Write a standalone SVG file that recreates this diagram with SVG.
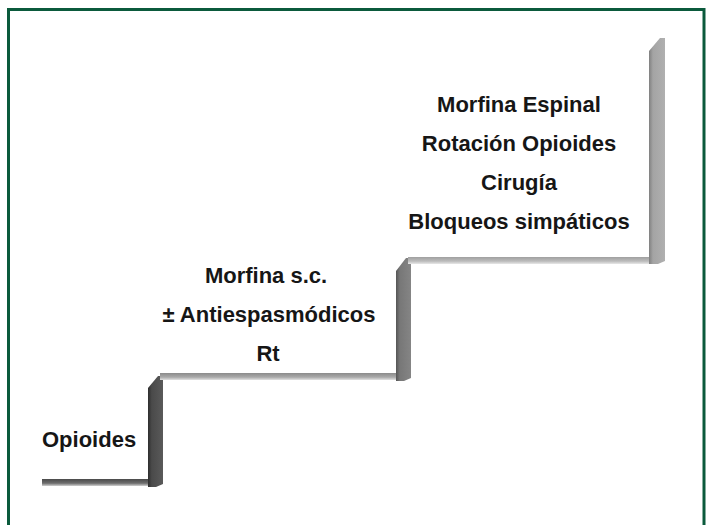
<svg xmlns="http://www.w3.org/2000/svg" width="706" height="525" viewBox="0 0 706 525">
  <defs>
    <linearGradient id="tread1" x1="0" y1="0" x2="0" y2="1">
      <stop offset="0" stop-color="#4a4a4a"/>
      <stop offset="0.6" stop-color="#6e6e6e"/>
      <stop offset="1" stop-color="#d0d0d0"/>
    </linearGradient>
    <linearGradient id="tread2" x1="0" y1="0" x2="0" y2="1">
      <stop offset="0" stop-color="#8a8a8a"/>
      <stop offset="0.6" stop-color="#aaa"/>
      <stop offset="1" stop-color="#e2e2e2"/>
    </linearGradient>
    <linearGradient id="tread3" x1="0" y1="0" x2="0" y2="1">
      <stop offset="0" stop-color="#a0a0a0"/>
      <stop offset="0.6" stop-color="#bcbcbc"/>
      <stop offset="1" stop-color="#e8e8e8"/>
    </linearGradient>
    <linearGradient id="riser1" x1="0" y1="0" x2="1" y2="0">
      <stop offset="0" stop-color="#2e2e2e"/>
      <stop offset="0.25" stop-color="#4a4a4a"/>
      <stop offset="1" stop-color="#5a5a5a"/>
    </linearGradient>
    <linearGradient id="riser2" x1="0" y1="0" x2="1" y2="0">
      <stop offset="0" stop-color="#555"/>
      <stop offset="0.25" stop-color="#777"/>
      <stop offset="1" stop-color="#858585"/>
    </linearGradient>
    <linearGradient id="riser3" x1="0" y1="0" x2="1" y2="0">
      <stop offset="0" stop-color="#808080"/>
      <stop offset="0.25" stop-color="#a4a4a4"/>
      <stop offset="1" stop-color="#b0b0b0"/>
    </linearGradient>
  </defs>
  <style>
    .lbl { font-family: "Liberation Sans", Arial, sans-serif; font-weight: bold; font-size: 22px; fill: #161616; }
    .c { text-anchor: middle; }
  </style>
  <rect x="0" y="0" width="706" height="525" fill="#ffffff"/>
  <rect x="8.5" y="9.5" width="695.5" height="540" fill="none" stroke="#0b5a3c" stroke-width="3"/>

  <g id="stairs">
    <g id="step1">
      <rect x="42" y="479" width="112" height="7" fill="url(#tread1)"/>
      <polygon points="148,388 158,376 163,376 163,484 156,487 148,487" fill="url(#riser1)"/>
    </g>
    <g id="step2">
      <rect x="160" y="373" width="240" height="7" fill="url(#tread2)"/>
      <polygon points="396,271 406,258 411,258 411,378 404,381 396,381" fill="url(#riser2)"/>
    </g>
    <g id="step3">
      <rect x="408" y="257" width="246" height="7" fill="url(#tread3)"/>
      <polygon points="649,51 660,38 665,38 665,261 658,264 649,264" fill="url(#riser3)"/>
    </g>
  </g>

  <g id="label1">
    <text class="lbl" x="42" y="447">Opioides</text>
  </g>
  <g id="label2">
    <text class="lbl c" x="266" y="283">Morfina s.c.</text>
    <text class="lbl c" x="269" y="322">± Antiespasmódicos</text>
    <text class="lbl c" x="268" y="361">Rt</text>
  </g>
  <g id="label3">
    <text class="lbl c" x="519" y="112">Morfina Espinal</text>
    <text class="lbl c" x="519" y="151">Rotación Opioides</text>
    <text class="lbl c" x="519" y="190">Cirugía</text>
    <text class="lbl c" x="519" y="229">Bloqueos simpáticos</text>
  </g>
</svg>
